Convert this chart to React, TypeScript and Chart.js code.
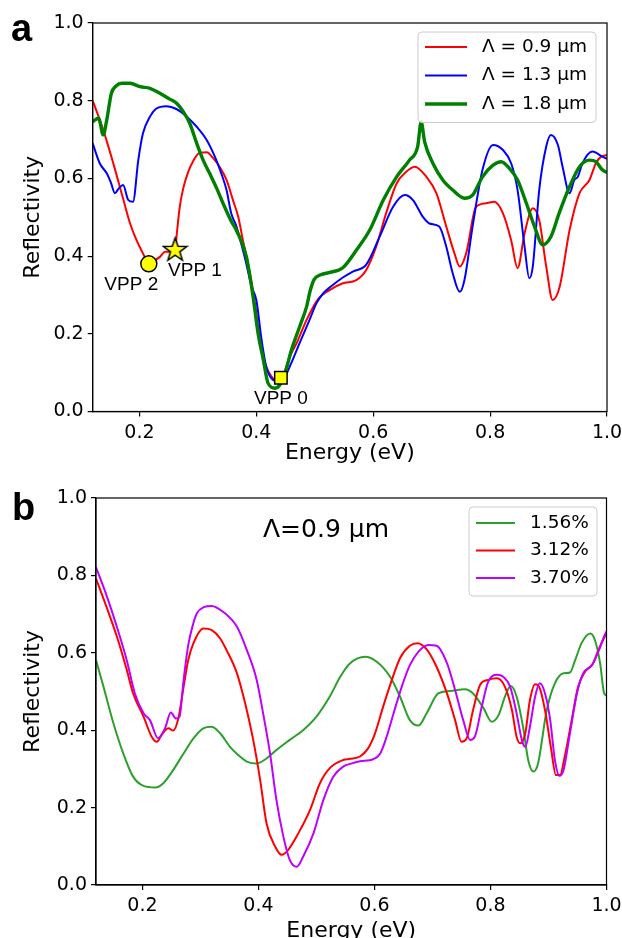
import React, { useEffect, useRef } from 'react';
import { Chart, registerables } from 'chart.js';

Chart.register(...registerables);

const SANS = "'DejaVu Sans', 'Noto Sans', sans-serif";
const ARIAL = "'Liberation Sans', Arial, sans-serif";

// ---------- shared ticks ----------
const xTickValues = [0.2, 0.4, 0.6, 0.8, 1.0];
const yTickValues = [0.0, 0.2, 0.4, 0.6, 0.8, 1.0];
const xAxisTitle = 'Energy (eV)';
const yAxisTitle = 'Reflectivity';

// ---------- panel a : [energy (eV), reflectivity] ----------
const seriesLabelsA = ['Λ = 0.9 μm', 'Λ = 1.3 μm', 'Λ = 1.8 μm'];
const reflA_09 = [
  [0.12, 0.8], [0.138, 0.725], [0.155, 0.64], [0.172, 0.548], [0.184, 0.484], [0.195, 0.441], [0.206, 0.407],
  [0.216, 0.38], [0.225, 0.388], [0.235, 0.398], [0.244, 0.411], [0.252, 0.411], [0.261, 0.417], [0.264, 0.459],
  [0.269, 0.527], [0.275, 0.575], [0.283, 0.615], [0.292, 0.645], [0.303, 0.666], [0.315, 0.667], [0.326, 0.652],
  [0.337, 0.63], [0.349, 0.596], [0.36, 0.544], [0.369, 0.501], [0.377, 0.441], [0.389, 0.356], [0.398, 0.275],
  [0.409, 0.158], [0.417, 0.115], [0.426, 0.09], [0.434, 0.078], [0.442, 0.076], [0.451, 0.115], [0.46, 0.15],
  [0.469, 0.176], [0.486, 0.236], [0.506, 0.29], [0.526, 0.313], [0.548, 0.33], [0.571, 0.338], [0.588, 0.364],
  [0.605, 0.424], [0.622, 0.51], [0.64, 0.587], [0.655, 0.615], [0.671, 0.63], [0.691, 0.604], [0.708, 0.562],
  [0.725, 0.476], [0.739, 0.407], [0.748, 0.373], [0.759, 0.407], [0.776, 0.527], [0.793, 0.536], [0.807, 0.54],
  [0.822, 0.51], [0.836, 0.441], [0.847, 0.369], [0.859, 0.459], [0.873, 0.523], [0.884, 0.493], [0.896, 0.373],
  [0.907, 0.287], [0.919, 0.321], [0.936, 0.467], [0.953, 0.562], [0.97, 0.596], [0.981, 0.639], [0.99, 0.656],
  [1.0, 0.66],
];
const reflA_13 = [
  [0.12, 0.69], [0.132, 0.639], [0.144, 0.613], [0.151, 0.59], [0.158, 0.562], [0.165, 0.575], [0.172, 0.583],
  [0.181, 0.544], [0.189, 0.54], [0.198, 0.647], [0.206, 0.716], [0.218, 0.759], [0.229, 0.78], [0.246, 0.786],
  [0.264, 0.778], [0.281, 0.759], [0.298, 0.733], [0.315, 0.699], [0.329, 0.656], [0.34, 0.613], [0.349, 0.57],
  [0.357, 0.51], [0.366, 0.476], [0.38, 0.398], [0.392, 0.321], [0.4, 0.287], [0.409, 0.184], [0.417, 0.115],
  [0.429, 0.081], [0.443, 0.077], [0.457, 0.115], [0.474, 0.176], [0.491, 0.236], [0.503, 0.279], [0.515, 0.305],
  [0.527, 0.321], [0.548, 0.345], [0.565, 0.36], [0.588, 0.378], [0.611, 0.45], [0.634, 0.527], [0.654, 0.557],
  [0.668, 0.544], [0.685, 0.501], [0.696, 0.484], [0.713, 0.476], [0.725, 0.424], [0.736, 0.356], [0.748, 0.308],
  [0.756, 0.338], [0.77, 0.476], [0.787, 0.622], [0.805, 0.686], [0.822, 0.673], [0.836, 0.639], [0.847, 0.57],
  [0.859, 0.424], [0.867, 0.343], [0.873, 0.373], [0.884, 0.57], [0.896, 0.682], [0.904, 0.712], [0.916, 0.686],
  [0.924, 0.63], [0.936, 0.562], [0.944, 0.596], [0.95, 0.604], [0.958, 0.639], [0.975, 0.669], [0.992, 0.656],
  [1.0, 0.65],
];
const reflA_18 = [
  [0.12, 0.746], [0.13, 0.755], [0.138, 0.712], [0.144, 0.75], [0.152, 0.819], [0.16, 0.838], [0.17, 0.845],
  [0.184, 0.845], [0.201, 0.836], [0.218, 0.832], [0.235, 0.819], [0.252, 0.804], [0.264, 0.793], [0.275, 0.772],
  [0.286, 0.742], [0.298, 0.69], [0.309, 0.647], [0.32, 0.613], [0.332, 0.575], [0.343, 0.536], [0.357, 0.49],
  [0.366, 0.466], [0.383, 0.398], [0.394, 0.3], [0.403, 0.201], [0.412, 0.133], [0.42, 0.073], [0.432, 0.06],
  [0.44, 0.068], [0.449, 0.098], [0.46, 0.158], [0.474, 0.218], [0.486, 0.27], [0.492, 0.31], [0.499, 0.34],
  [0.51, 0.352], [0.526, 0.358], [0.548, 0.37], [0.571, 0.415], [0.594, 0.467], [0.617, 0.544], [0.64, 0.604],
  [0.662, 0.647], [0.676, 0.682], [0.682, 0.745], [0.688, 0.694], [0.702, 0.639], [0.719, 0.596], [0.736, 0.57],
  [0.756, 0.549], [0.77, 0.557], [0.787, 0.604], [0.805, 0.634], [0.819, 0.643], [0.833, 0.626], [0.847, 0.596],
  [0.862, 0.536], [0.876, 0.476], [0.89, 0.429], [0.904, 0.45], [0.918, 0.51], [0.936, 0.579], [0.953, 0.63],
  [0.97, 0.647], [0.981, 0.643], [0.992, 0.622], [1.0, 0.615],
];
const vppLabels = ['VPP 0', 'VPP 1', 'VPP 2'];
const vppEnergy = [0.442, 0.261, 0.216];
const vppRefl = [0.087, 0.417, 0.38];
const vppLabelEnergy = [0.442, 0.295, 0.186];
const vppLabelRefl = [0.032, 0.362, 0.326];

// ---------- panel b ----------
const panelBNote = 'Λ=0.9 μm';
const seriesLabelsB = ['1.56%', '3.12%', '3.70%'];
const reflB_156 = [
  [0.12, 0.581], [0.133, 0.512], [0.15, 0.418], [0.167, 0.34], [0.184, 0.28], [0.202, 0.256], [0.222, 0.252],
  [0.236, 0.263], [0.253, 0.297], [0.271, 0.34], [0.288, 0.379], [0.305, 0.405], [0.319, 0.409], [0.334, 0.392],
  [0.351, 0.357], [0.365, 0.336], [0.38, 0.319], [0.397, 0.314], [0.414, 0.327], [0.431, 0.349], [0.454, 0.375],
  [0.477, 0.4], [0.5, 0.435], [0.523, 0.487], [0.541, 0.538], [0.558, 0.573], [0.584, 0.59], [0.604, 0.577],
  [0.627, 0.538], [0.644, 0.487], [0.661, 0.426], [0.676, 0.412], [0.69, 0.444], [0.71, 0.495], [0.73, 0.501],
  [0.756, 0.506], [0.77, 0.495], [0.788, 0.457], [0.802, 0.422], [0.814, 0.439], [0.825, 0.487], [0.835, 0.514],
  [0.845, 0.487], [0.857, 0.401], [0.865, 0.323], [0.874, 0.293], [0.882, 0.314], [0.897, 0.452], [0.911, 0.521],
  [0.926, 0.547], [0.937, 0.549], [0.946, 0.581], [0.957, 0.625], [0.972, 0.65], [0.98, 0.633], [0.989, 0.573],
  [0.996, 0.495], [1.0, 0.49],
];
const reflB_312 = [
  [0.12, 0.792], [0.138, 0.719], [0.156, 0.642], [0.173, 0.556], [0.184, 0.495], [0.202, 0.435], [0.216, 0.383],
  [0.225, 0.37], [0.233, 0.388], [0.245, 0.405], [0.253, 0.399], [0.262, 0.431], [0.271, 0.512], [0.279, 0.581],
  [0.288, 0.625], [0.305, 0.663], [0.319, 0.659], [0.334, 0.637], [0.345, 0.607], [0.363, 0.547], [0.377, 0.47],
  [0.391, 0.375], [0.403, 0.271], [0.414, 0.159], [0.429, 0.099], [0.44, 0.078], [0.451, 0.09], [0.469, 0.134],
  [0.489, 0.194], [0.506, 0.263], [0.523, 0.302], [0.546, 0.323], [0.558, 0.326], [0.575, 0.332], [0.589, 0.353],
  [0.601, 0.392], [0.615, 0.461], [0.63, 0.53], [0.644, 0.586], [0.661, 0.618], [0.674, 0.625], [0.69, 0.609],
  [0.707, 0.564], [0.725, 0.495], [0.739, 0.426], [0.75, 0.37], [0.759, 0.379], [0.77, 0.452], [0.782, 0.517],
  [0.796, 0.53], [0.811, 0.534], [0.825, 0.512], [0.837, 0.452], [0.845, 0.383], [0.851, 0.366], [0.86, 0.392],
  [0.868, 0.478], [0.877, 0.519], [0.884, 0.512], [0.894, 0.452], [0.904, 0.357], [0.913, 0.284], [0.92, 0.284],
  [0.928, 0.332], [0.94, 0.426], [0.951, 0.512], [0.963, 0.551], [0.977, 0.573], [0.986, 0.607], [0.997, 0.642],
  [1.0, 0.65],
];
const reflB_370 = [
  [0.12, 0.821], [0.138, 0.749], [0.156, 0.667], [0.173, 0.581], [0.187, 0.495], [0.202, 0.444], [0.213, 0.426],
  [0.227, 0.379], [0.239, 0.405], [0.249, 0.446], [0.258, 0.43], [0.264, 0.435], [0.271, 0.53], [0.279, 0.62],
  [0.287, 0.672], [0.294, 0.702], [0.306, 0.718], [0.319, 0.721], [0.339, 0.706], [0.363, 0.667], [0.38, 0.607],
  [0.397, 0.53], [0.408, 0.444], [0.42, 0.34], [0.431, 0.22], [0.443, 0.125], [0.454, 0.065], [0.466, 0.047],
  [0.477, 0.073], [0.495, 0.134], [0.512, 0.22], [0.529, 0.28], [0.546, 0.306], [0.558, 0.313], [0.575, 0.32],
  [0.598, 0.325], [0.61, 0.34], [0.621, 0.383], [0.633, 0.444], [0.647, 0.512], [0.661, 0.568], [0.676, 0.603],
  [0.693, 0.62], [0.707, 0.618], [0.725, 0.573], [0.739, 0.504], [0.753, 0.426], [0.765, 0.375], [0.773, 0.383],
  [0.785, 0.461], [0.796, 0.525], [0.811, 0.543], [0.822, 0.538], [0.834, 0.512], [0.845, 0.444], [0.854, 0.375],
  [0.86, 0.357], [0.868, 0.409], [0.877, 0.487], [0.885, 0.521], [0.894, 0.495], [0.903, 0.426], [0.911, 0.323],
  [0.919, 0.282], [0.926, 0.297], [0.937, 0.392], [0.949, 0.495], [0.96, 0.547], [0.975, 0.568], [0.986, 0.603],
  [0.997, 0.646], [1.0, 0.655],
];

// ---------- helpers ----------
function lineDataset(label: string, pts: number[][], color: string, width: number, order: number) {
  return {
    type: 'line',
    label,
    data: pts.map(([x, y]) => ({ x, y })),
    borderColor: color,
    backgroundColor: color,
    borderWidth: width,
    pointRadius: 0,
    fill: false,
    cubicInterpolationMode: 'monotone',
    order,
  };
}

function makeStar(size: number) {
  const c = document.createElement('canvas');
  c.width = size;
  c.height = size;
  const g = c.getContext('2d') as CanvasRenderingContext2D;
  const cx = size / 2;
  const cy = size / 2 + 0.8;
  const R = size / 2 - 1.2;
  const r = R * 0.4;
  g.beginPath();
  for (let i = 0; i < 10; i++) {
    const a = -Math.PI / 2 + (i * Math.PI) / 5;
    const rad = i % 2 === 0 ? R : r;
    g.lineTo(cx + rad * Math.cos(a), cy + rad * Math.sin(a));
  }
  g.closePath();
  g.fillStyle = '#ffff00';
  g.fill();
  g.lineWidth = 1.5;
  g.strokeStyle = '#000';
  g.stroke();
  return c;
}

function scalesConfig(yWidth: number, xHeight: number, xTitleBottom: number) {
  const tickFont = { family: SANS, size: 19 };
  const grid = { drawOnChartArea: false, drawTicks: true, tickLength: 5, color: '#000', lineWidth: 1.2 };
  return {
    x: {
      type: 'linear',
      min: 0.12,
      max: 1.0,
      afterBuildTicks: (s: any) => {
        s.ticks = xTickValues.map((v) => ({ value: v }));
      },
      afterFit: (s: any) => {
        s.height = xHeight;
        s.paddingLeft = 0;
        s.paddingRight = 0;
      },
      ticks: {
        callback: (v: any) => Number(v).toFixed(1),
        font: tickFont,
        color: '#000',
        padding: 5,
        maxRotation: 0,
        autoSkip: false,
      },
      grid,
      border: { display: true, color: '#000', width: 1.2 },
      title: {
        display: true,
        text: xAxisTitle,
        font: { family: SANS, size: 22 },
        color: '#000',
        padding: { top: 0, bottom: xTitleBottom },
      },
    },
    y: {
      type: 'linear',
      min: 0,
      max: 1.0,
      afterBuildTicks: (s: any) => {
        s.ticks = yTickValues.map((v) => ({ value: v }));
      },
      afterFit: (s: any) => {
        s.width = yWidth;
        s.paddingTop = 0;
        s.paddingBottom = 0;
      },
      ticks: {
        callback: (v: any) => Number(v).toFixed(1),
        font: tickFont,
        color: '#000',
        padding: 4,
        autoSkip: false,
      },
      grid,
      border: { display: true, color: '#000', width: 1.2 },
      title: {
        display: true,
        text: yAxisTitle,
        font: { family: SANS, size: 22 },
        color: '#000',
        padding: { top: 20, bottom: 0 },
      },
    },
  };
}

const framePlugin = {
  id: 'frame',
  afterDatasetsDraw(chart: any) {
    const { ctx, chartArea: a } = chart;
    ctx.save();
    ctx.strokeStyle = '#000';
    ctx.lineWidth = 1.2;
    ctx.strokeRect(a.left, a.top, a.right - a.left, a.bottom - a.top);
    ctx.restore();
  },
};

function legendPlugin(cfg: any) {
  return {
    id: 'boxLegend',
    afterDraw(chart: any) {
      const ctx = chart.ctx as CanvasRenderingContext2D;
      const { x0, y0, x1, y1 } = cfg;
      const rr = 4;
      ctx.save();
      ctx.beginPath();
      ctx.moveTo(x0 + rr, y0);
      ctx.lineTo(x1 - rr, y0);
      ctx.quadraticCurveTo(x1, y0, x1, y0 + rr);
      ctx.lineTo(x1, y1 - rr);
      ctx.quadraticCurveTo(x1, y1, x1 - rr, y1);
      ctx.lineTo(x0 + rr, y1);
      ctx.quadraticCurveTo(x0, y1, x0, y1 - rr);
      ctx.lineTo(x0, y0 + rr);
      ctx.quadraticCurveTo(x0, y0, x0 + rr, y0);
      ctx.closePath();
      ctx.fillStyle = 'rgba(255,255,255,0.8)';
      ctx.fill();
      ctx.strokeStyle = '#cccccc';
      ctx.lineWidth = 1;
      ctx.stroke();
      cfg.items.forEach((it: any, i: number) => {
        const y = cfg.rowY + i * cfg.rowGap;
        ctx.beginPath();
        ctx.moveTo(cfg.lineX0, y);
        ctx.lineTo(cfg.lineX1, y);
        ctx.strokeStyle = it.color;
        ctx.lineWidth = it.width;
        ctx.stroke();
        ctx.fillStyle = '#000';
        ctx.font = `${cfg.fontSize}px ${SANS}`;
        ctx.textAlign = 'left';
        ctx.textBaseline = 'middle';
        ctx.fillText(it.label, cfg.textX, y);
      });
      ctx.restore();
    },
  };
}

function textPlugin(dataTexts: any[], pixelTexts: any[]) {
  return {
    id: 'texts',
    afterDraw(chart: any) {
      const ctx = chart.ctx as CanvasRenderingContext2D;
      const xs = chart.scales.x;
      const ys = chart.scales.y;
      ctx.save();
      ctx.fillStyle = '#000';
      dataTexts.forEach((t) => {
        ctx.font = `${t.size}px ${t.family}`;
        ctx.textAlign = 'center';
        ctx.textBaseline = 'middle';
        ctx.fillText(t.text, xs.getPixelForValue(t.x), ys.getPixelForValue(t.y));
      });
      pixelTexts.forEach((t) => {
        ctx.font = `bold ${t.size}px ${ARIAL}`;
        ctx.textAlign = 'left';
        ctx.textBaseline = 'alphabetic';
        ctx.fillText(t.text, t.px, t.py);
      });
      ctx.restore();
    },
  };
}

export default function App() {
  const refA = useRef<HTMLCanvasElement>(null);
  const refB = useRef<HTMLCanvasElement>(null);

  useEffect(() => {
    const star = makeStar(27);
    const colorsA = ['#ff0000', '#0000ff', '#008000'];
    const widthsA = [2, 2, 3.4];
    const dataA = [reflA_09, reflA_13, reflA_18];
    const ordersA = [3, 2, 1];

    const chartA = new Chart(refA.current as HTMLCanvasElement, {
      type: 'line',
      data: {
        datasets: [
          ...dataA.map((d, i) => lineDataset(seriesLabelsA[i], d, colorsA[i], widthsA[i], ordersA[i])),
          {
            type: 'line',
            label: 'VPP',
            data: vppEnergy.map((x, i) => ({ x, y: vppRefl[i] })),
            showLine: false,
            pointStyle: ['rect', star, 'circle'],
            pointRadius: [8.8, 13, 8],
            pointBackgroundColor: '#ffff00',
            pointBorderColor: '#000',
            pointBorderWidth: 1.5,
            order: 0,
          },
        ] as any,
      },
      options: {
        responsive: false,
        animation: false,
        devicePixelRatio: 1,
        events: [],
        layout: { padding: { left: 0, right: 15, top: 23, bottom: 0 } },
        plugins: { legend: { display: false }, tooltip: { enabled: false } },
        scales: scalesConfig(92.7, 58.5, 3.4) as any,
      },
      plugins: [
        framePlugin,
        legendPlugin({
          x0: 418, y0: 32, x1: 596, y1: 122.5,
          rowY: 47, rowGap: 28.5, lineX0: 425, lineX1: 467, textX: 482, fontSize: 18.5,
          items: seriesLabelsA.map((l, i) => ({ label: l, color: colorsA[i], width: widthsA[i] })),
        }),
        textPlugin(
          vppLabels.map((t, i) => ({ text: t, x: vppLabelEnergy[i], y: vppLabelRefl[i], size: 19, family: ARIAL })),
          [{ text: 'a', px: 11, py: 41, size: 38 }],
        ),
      ],
    } as any);

    const colorsB = ['#2ca02c', '#ff0000', '#c000ff'];
    const dataB = [reflB_156, reflB_312, reflB_370];
    const ordersB = [3, 2, 1];
    const chartB = new Chart(refB.current as HTMLCanvasElement, {
      type: 'line',
      data: {
        datasets: dataB.map((d, i) => lineDataset(seriesLabelsB[i], d, colorsB[i], 2, ordersB[i])) as any,
      },
      options: {
        responsive: false,
        animation: false,
        devicePixelRatio: 1,
        events: [],
        layout: { padding: { left: 0, right: 15.5, top: 28, bottom: 0 } },
        plugins: { legend: { display: false }, tooltip: { enabled: false } },
        scales: scalesConfig(96, 65, 5.4) as any,
      },
      plugins: [
        framePlugin,
        legendPlugin({
          x0: 469, y0: 37, x1: 597, y1: 126,
          rowY: 53, rowGap: 27.5, lineX0: 476, lineX1: 515, textX: 530, fontSize: 18.5,
          items: seriesLabelsB.map((l, i) => ({ label: l, color: colorsB[i], width: 2 })),
        }),
        textPlugin(
          [{ text: panelBNote, x: 0.5165, y: 0.917, size: 25, family: SANS }],
          [{ text: 'b', px: 12, py: 50, size: 38 }],
        ),
      ],
    } as any);

    return () => {
      chartA.destroy();
      chartB.destroy();
    };
  }, []);

  return (
    <div
      style={{
        position: 'absolute',
        left: 0,
        top: 0,
        width: 622,
        height: 938,
        overflow: 'hidden',
        background: '#fff',
      }}
    >
      <canvas
        ref={refA}
        width={622}
        height={470}
        style={{ position: 'absolute', left: 0, top: 0, width: 622, height: 470 }}
      />
      <canvas
        ref={refB}
        width={622}
        height={480}
        style={{ position: 'absolute', left: 0, top: 470, width: 622, height: 480 }}
      />
    </div>
  );
}
